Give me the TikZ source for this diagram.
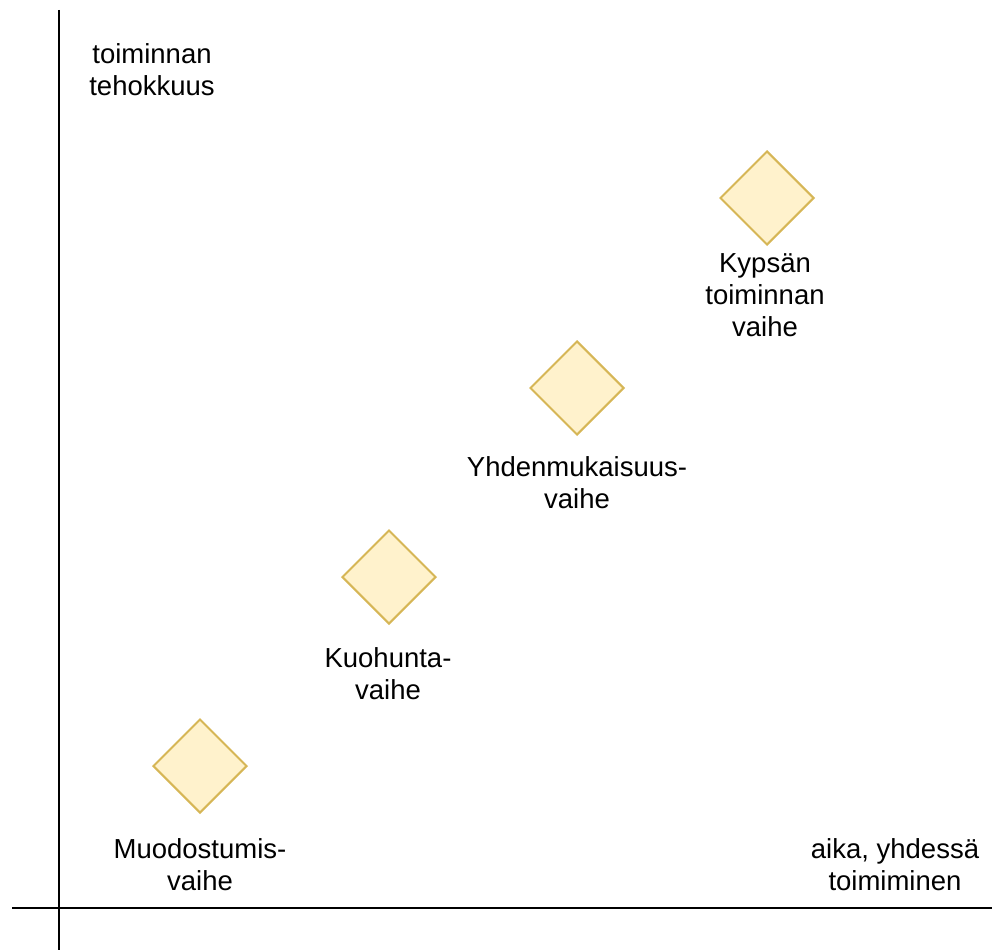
\documentclass[tikz,border=0pt]{standalone}
\usepackage{fontspec}
\setmainfont{Liberation Sans}
\usetikzlibrary{shapes.geometric}
\definecolor{phasefill}{HTML}{FFF2CC}
\definecolor{phaseline}{HTML}{D6B656}
\begin{document}
\begin{tikzpicture}[x=1pt,y=-1pt,
  axis/.style={draw=black,line width=2pt},
  phase/.style={diamond,draw=phaseline,fill=phasefill,line width=2pt,
    inner sep=0pt,minimum width=94pt,minimum height=94pt},
  label/.style={align=center,anchor=base,inner sep=0pt,
    font=\fontsize{27.5}{32}\selectfont}]
  \useasboundingbox (0,0) rectangle (992,950);
  % axes
  \coordinate (ytop) at (59,10);
  \coordinate (ybot) at (59,950);
  \coordinate (xleft) at (12,908);
  \coordinate (xright) at (992,908);
  \draw[axis] (ytop) -- (ybot);
  \draw[axis] (xleft) -- (xright);
  % axis titles (positioned by the baseline of their last line)
  \node[label] (ylab) at (152,95) {toiminnan\\tehokkuus};
  \node[label] (xlab) at (895,890) {aika, yhdessä\\toimiminen};
  % phases
  \node[phase] (p1) at (200,766) {};
  \node[phase] (p2) at (389,577) {};
  \node[phase] (p3) at (577,388) {};
  \node[phase] (p4) at (767,198) {};
  \node[label] (t1) at (200,890) {Muodostumis-\\vaihe};
  \node[label] (t2) at (388,699) {Kuohunta-\\vaihe};
  \node[label] (t3) at (577,508) {Yhdenmukaisuus-\\vaihe};
  \node[label] (t4) at (765,336) {Kypsän\\toiminnan\\vaihe};
\end{tikzpicture}
\end{document}
